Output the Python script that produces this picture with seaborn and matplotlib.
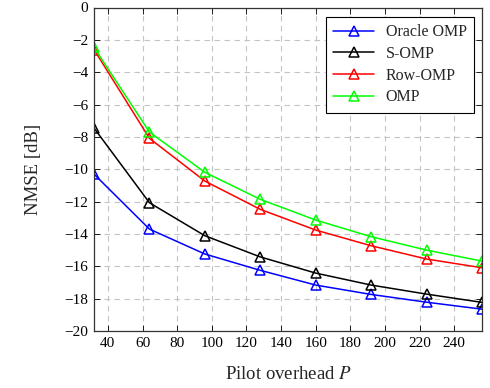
import numpy as np
import pandas as pd
import matplotlib
matplotlib.use("Agg")
import matplotlib.pyplot as plt
import seaborn as sns

pilot = [32, 64, 96, 128, 160, 192, 224, 256]
oracle_omp = [-10.3, -13.7, -15.24, -16.25, -17.16, -17.74, -18.22, -18.65]
s_omp = [-7.45, -12.07, -14.11, -15.42, -16.42, -17.16, -17.72, -18.23]
row_omp = [-2.6, -8.09, -10.73, -12.48, -13.76, -14.73, -15.55, -16.09]
omp = [-2.47, -7.7, -10.19, -11.86, -13.14, -14.17, -15.0, -15.68]

series_names = ["Oracle OMP", "S-OMP", "Row-OMP", "OMP"]
series_vals = [oracle_omp, s_omp, row_omp, omp]
colors = ["#0000ff", "#000000", "#ff0000", "#00ff00"]

df = pd.DataFrame({
    "P": pilot * 4,
    "NMSE": sum(series_vals, []),
    "method": sum([[n] * len(pilot) for n in series_names], []),
})

sns.set_theme(style="ticks")
plt.rcParams["font.family"] = ["Liberation Serif", "DejaVu Serif"]
plt.rcParams["mathtext.fontset"] = "stix"

fig = plt.figure(figsize=(4.9, 3.88), dpi=100)
ax = fig.add_axes([94/490, 57/388, 388/490, 323.5/388])

sns.lineplot(data=df, x="P", y="NMSE", hue="method", hue_order=series_names,
             palette=colors, marker="^", markersize=7, markerfacecolor="none",
             markeredgewidth=1.1, linewidth=1.1, ax=ax, legend=True)
for line, c in zip(ax.lines, colors):
    line.set_markeredgecolor(c)

ax.set_xlim(32, 256)
ax.set_ylim(-20, 0)
ax.set_xticks(np.arange(40, 241, 20))
ax.set_yticks(np.arange(-20, 1, 2))
ax.set_yticklabels([f"\u2212{abs(v)}" if v < 0 else f"{v}" for v in range(-20, 1, 2)])
ax.grid(True, linestyle=(0, (5, 4)), color="#c4c4c4", linewidth=0.8)
ax.tick_params(direction="in", length=4, width=0.6, top=True, right=True,
               labelsize=11, colors="#000000", labelcolor="#000000", pad=4)
for s in ax.spines.values():
    s.set_color("#333333")
    s.set_linewidth(0.9)
ax.set_xlabel("Pilot overhead $P$", fontsize=13.5, labelpad=12)
ax.set_ylabel("NMSE [dB]", fontsize=13.5, labelpad=16)

leg = ax.legend(loc="upper right", fontsize=11.5, frameon=True, fancybox=False,
                edgecolor="#000000", framealpha=1, borderpad=0.45,
                handlelength=2.6, handletextpad=0.7, labelspacing=0.36,
                borderaxespad=0, bbox_to_anchor=(0.979, 0.9706))
leg.get_frame().set_linewidth(0.8)
for h, c in zip(leg.get_lines(), colors):
    h.set_markeredgecolor(c)
    h.set_markerfacecolor("none")

fig.savefig("out.png", dpi=100)
